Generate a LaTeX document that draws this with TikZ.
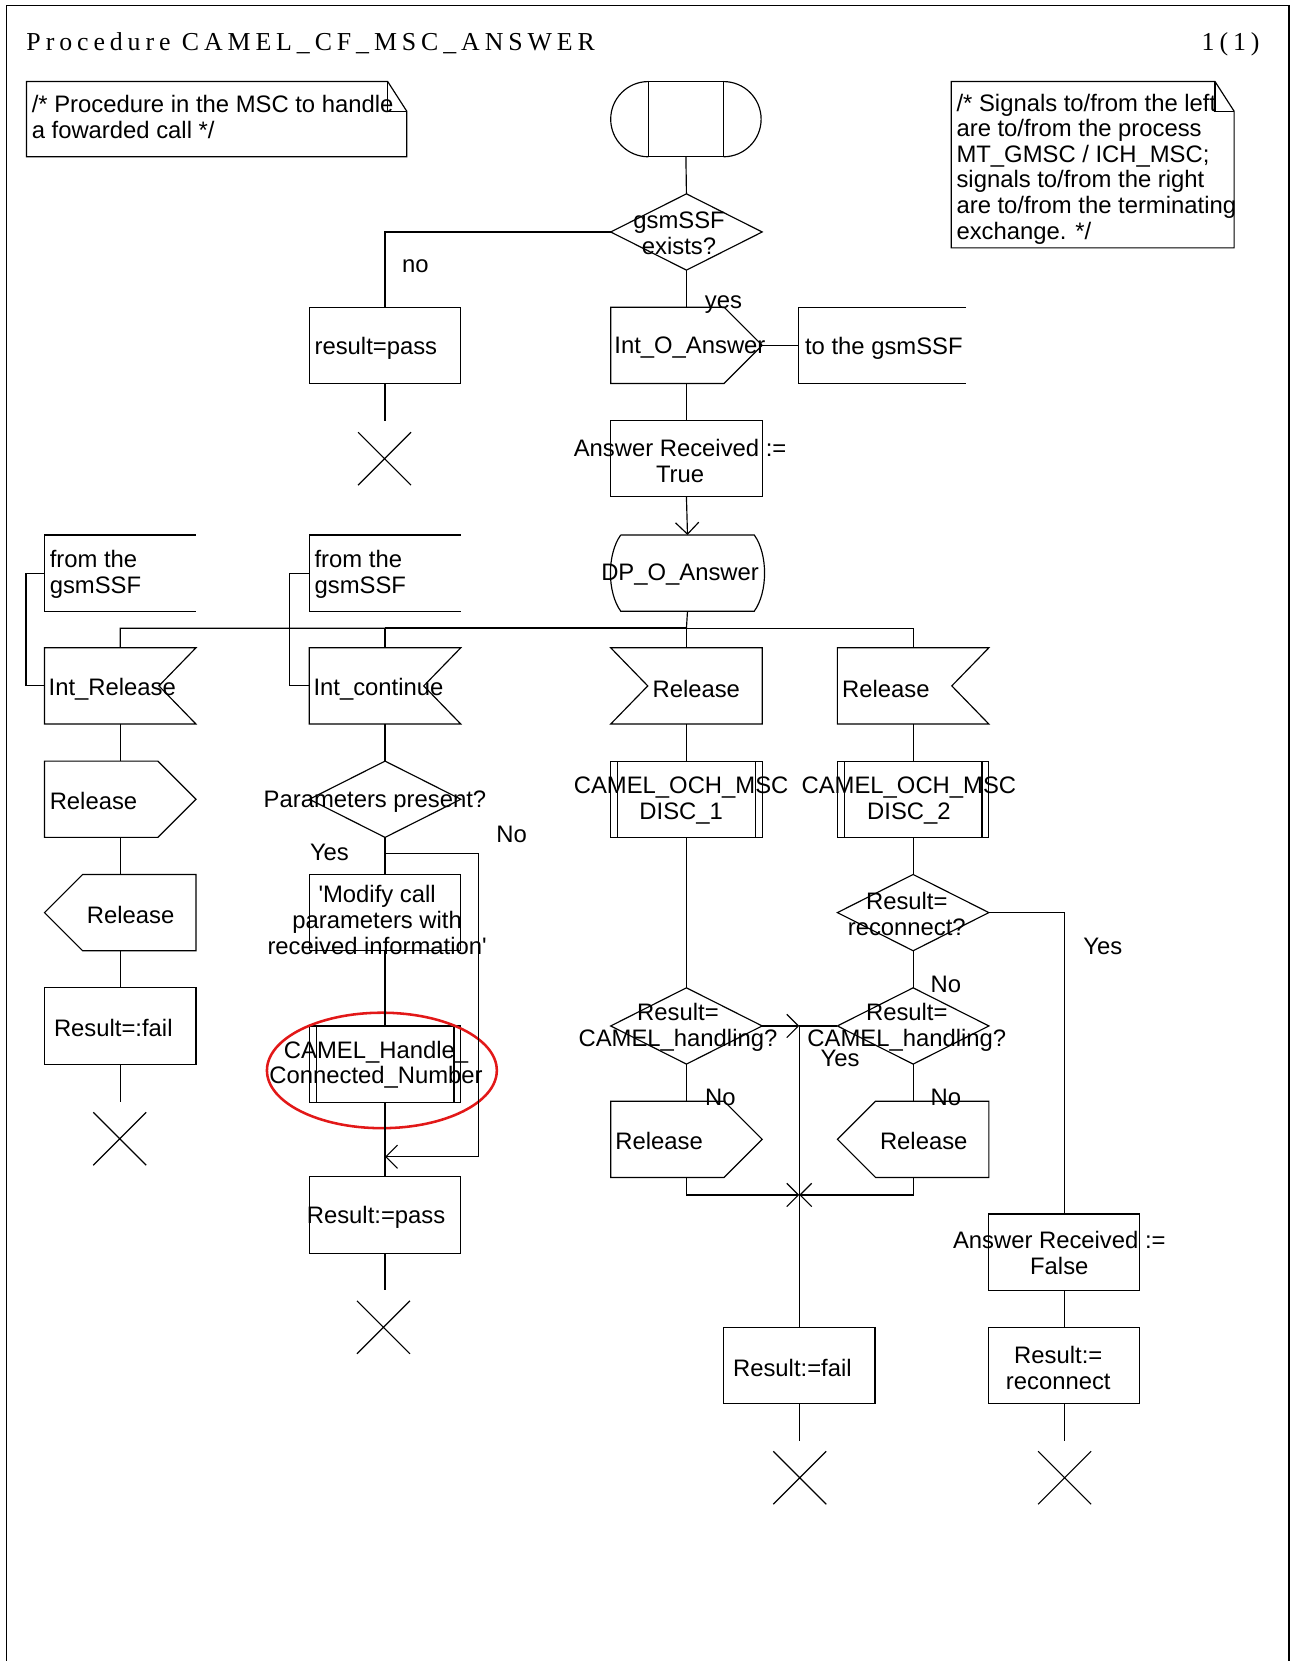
\documentclass[tikz,border=0pt]{standalone}
\usepackage{fontspec}
\setmainfont{Liberation Sans}
\newfontfamily\titlefont[LetterSpace=19]{Liberation Serif}
\usetikzlibrary{calc,arrows.meta,shapes.geometric}
\definecolor{hilite}{RGB}{226,24,24}

\begin{document}
\begin{tikzpicture}[x=0.5pt,y=-0.5pt,line width=0.55pt,
  every node/.style={inner sep=0pt,outer sep=0pt,font=\fontsize{11.25}{12.1}\selectfont},
  sym/.style={minimum width=71.5pt,minimum height=36pt},
  xmark/.style={minimum width=25pt,minimum height=25pt},
  flow/.style={-{Straight Barb[length=5.5pt,width=11pt]}},
  busbold/.style={line width=1.1pt},
  ctxt/.style={align=center,yshift=-1.25pt},
  ltxt/.style={align=left,anchor=west,yshift=-1.25pt},
  headfont/.style={font=\titlefont\fontsize{12.2}{14}\selectfont},
  ring/.style={draw=hilite,line width=1.2pt,ellipse,minimum width=108.5pt,minimum height=54.5pt}]

\useasboundingbox (0,0) rectangle (1219,1568);

% page frame (open at the bottom)
\draw[line width=0.7pt] (6,1568) -- (6,5) -- (1217,5) -- (1217,1568);

% header
\node[anchor=base west,headfont] (title) at (25,48) {Procedure CAMEL\_CF\_MSC\_ANSWER};
\node[anchor=base east,headfont] (page) at (1189,48) {1(1)};

% comment notes
\node[minimum width=179.5pt,minimum height=35.5pt] (note1) at (204.5,112.5) {};
\node[minimum width=133.5pt,minimum height=78.5pt] (note2) at (1031.5,155.5) {};
\foreach \n in {note1,note2}{
  \draw (\n.north west) -- ($(\n.north east)+(-18,0)$) -- ($(\n.north east)+(0,28)$) -- (\n.south east) -- (\n.south west) -- cycle;
  \draw ($(\n.north east)+(-18,0)$) -- ($(\n.north east)+(-18,28)$) -- ($(\n.north east)+(0,28)$);
}
\node[ltxt] (note1t) at (30,108) {/* Procedure in the MSC to handle\\a fowarded call */};
\node[ltxt] (note2t) at (903,157) {/* Signals to/from the left\\are to/from the process\\MT\_GMSC / ICH\_MSC;\\signals to/from the right\\are to/from the terminating\\exchange. */};

% ---------- symbols ----------
\node[minimum width=35.5pt,minimum height=35.5pt,draw] (start) at (647.5,112.5) {};
\draw (start.north west) arc[start angle=90,end angle=270,radius=17.75pt];
\draw (start.north east) arc[start angle=90,end angle=-90,radius=17.75pt];

\node[sym] (dec1) at (648,219) {};
\node[sym,draw] (resp) at (363.5,326) {};
\node[sym] (intoans) at (648,326) {};
\node[minimum width=79pt,minimum height=36pt] (togsm) at (833,326) {};
\node[sym,draw] (art) at (648,433) {};
\node[minimum width=63pt,minimum height=36pt] (dpo) at (649,541) {};
\node[sym] (from1) at (113.5,541) {};
\node[sym] (from2) at (363.5,541) {};
\node[sym] (intrel) at (113.5,647.5) {};
\node[sym] (intcont) at (363.5,647.5) {};
\node[sym] (rel3) at (648,647.5) {};
\node[sym] (rel4) at (862,647.5) {};
\node[sym] (relout1) at (113.5,754.5) {};
\node[sym] (pp) at (363.5,754.5) {};
\node[sym,draw] (disc1) at (648,754.5) {};
\node[sym,draw] (disc2) at (862,754.5) {};
\node[sym] (relout2) at (113.5,861.5) {};
\node[sym,draw] (modify) at (363.5,861.5) {};
\node[sym] (recon) at (862,861.5) {};
\node[sym,draw] (fail1) at (113.5,968.5) {};
\node[sym,draw] (cch) at (363.5,1004.5) {};
\node[sym] (dec3) at (648,968.5) {};
\node[sym] (dec4) at (862,968.5) {};
\node[sym] (relout3) at (648,1075.5) {};
\node[sym] (relout4) at (862,1075.5) {};
\node[sym,draw] (passres) at (363.5,1147) {};
\node[sym,draw] (arf) at (1004.5,1182) {};
\node[sym,draw] (failres) at (754.5,1289) {};
\node[sym,draw] (reconres) at (1004.5,1289) {};

% terminators
\node[xmark] (x1) at (363,433) {};
\node[xmark] (x2) at (113,1075) {};
\node[xmark] (x3) at (362,1253) {};
\node[xmark] (x4) at (755,1395) {};
\node[xmark] (x5) at (1005,1395) {};
\foreach \n in {x1,x2,x3,x4,x5}
  \draw (\n.north west) -- (\n.south east) (\n.north east) -- (\n.south west);

% decisions
\foreach \n in {dec1,pp,recon,dec3,dec4}
  \draw (\n.north) -- (\n.east) -- (\n.south) -- (\n.west) -- cycle;
% outputs pointing right
\foreach \n in {intoans,relout1,relout3}
  \draw (\n.north west) -- ($(\n.north east)+(-36,0)$) -- (\n.east) -- ($(\n.south east)+(-36,0)$) -- (\n.south west) -- cycle;
% outputs pointing left
\foreach \n in {relout2,relout4}
  \draw (\n.north east) -- ($(\n.north west)+(36,0)$) -- (\n.west) -- ($(\n.south west)+(36,0)$) -- (\n.south east) -- cycle;
% inputs, notch on the right
\foreach \n in {intrel,intcont,rel4}
  \draw (\n.north west) -- (\n.north east) -- ($(\n.east)+(-35,0)$) -- (\n.south east) -- (\n.south west) -- cycle;
% input, notch on the left
\draw (rel3.north east) -- (rel3.north west) -- ($(rel3.west)+(35,0)$) -- (rel3.south west) -- (rel3.south east) -- cycle;
% open comment brackets
\foreach \n in {togsm,from1,from2}
  \draw (\n.north east) -- (\n.north west) -- (\n.south west) -- (\n.south east);
% procedure calls
\foreach \n in {disc1,disc2,cch}
  \draw ($(\n.north west)+(6.5,0)$) -- ($(\n.south west)+(6.5,0)$)
        ($(\n.north east)+(-6.5,0)$) -- ($(\n.south east)+(-6.5,0)$);
% internal event
\draw (dpo.north west) -- (dpo.north east)
  .. controls ($(dpo.north east)+(13,18)$) and ($(dpo.south east)+(13,-18)$) .. (dpo.south east)
  -- (dpo.south west)
  .. controls ($(dpo.south west)+(-13,-18)$) and ($(dpo.north west)+(-13,18)$) .. (dpo.north west);

% highlight
\node[ring] (mark) at (360.5,1010.5) {};

% ---------- texts ----------
\node[ctxt] (t-dec1) at (641,218) {gsmSSF\\exists?};
\node[ctxt] (t-no1) at (392,249) {no};
\node[ctxt] (t-yes1) at (683,285) {yes};
\node[ltxt] (t-resp) at (297,326) {result=pass};
\node[ltxt] (t-intoans) at (580,326) {Int\_O\_Answer};
\node[ltxt] (t-togsm) at (760,326) {to the gsmSSF};
\node[ctxt] (t-art) at (642,432.5) {Answer Received :=\\True};
\node[ctxt] (t-dpo) at (642,540) {DP\_O\_Answer};
\node[ltxt] (t-from1) at (47,539.5) {from the\\gsmSSF};
\node[ltxt] (t-from2) at (297,539.5) {from the\\gsmSSF};
\node[ltxt] (t-intrel) at (46,648) {Int\_Release};
\node[ltxt] (t-intcont) at (296,648) {Int\_continue};
\node[ltxt] (t-rel3) at (616,648) {Release};
\node[ltxt] (t-rel4) at (795,648) {Release};
\node[ltxt] (t-relout1) at (47,754) {Release};
\node[ctxt] (t-pp) at (354,754) {Parameters present?};
\node[ctxt] (t-disc1) at (643,753.5) {CAMEL\_OCH\_MSC\\DISC\_1};
\node[ctxt] (t-disc2) at (858,753.5) {CAMEL\_OCH\_MSC\\DISC\_2};
\node[ctxt] (t-yes2) at (311,802) {Yes};
\node[ctxt] (t-no2) at (483,785) {No};
\node[ltxt] (t-relout2) at (82,861) {Release};
\node[ctxt] (t-modify) at (356,866) {\textquotesingle Modify call\\parameters with\\received information\textquotesingle};
\node[ctxt] (t-recon) at (856,860.5) {Result=\\reconnect?};
\node[ctxt] (t-yes3) at (1041,891) {Yes};
\node[ctxt] (t-no3) at (893,927) {No};
\node[ltxt] (t-fail1) at (51,968) {Result=:fail};
\node[ctxt] (t-cch) at (355,1002.5) {CAMEL\_Handle\_\\Connected\_Number};
\node[ctxt] (t-dec3) at (640,967.5) {Result=\\CAMEL\_handling?};
\node[ctxt] (t-dec4) at (856,967.5) {Result=\\CAMEL\_handling?};
\node[ctxt] (t-yes4) at (793,997) {Yes};
\node[ctxt] (t-no4) at (680,1033) {No};
\node[ctxt] (t-no5) at (893,1033) {No};
\node[ltxt] (t-relout3) at (581,1075) {Release};
\node[ctxt] (t-relout4) at (872,1075) {Release};
\node[ctxt] (t-passres) at (355,1147) {Result:=pass};
\node[ctxt] (t-arf) at (1000,1180.5) {Answer Received :=\\False};
\node[ctxt] (t-failres) at (748,1289) {Result:=fail};
\node[ctxt] (t-reconres) at (999,1289) {Result:=\\reconnect};

% ---------- connectors ----------
\coordinate (e1) at (363.5,397);
\coordinate (e2) at (113.5,1040);
\coordinate (e3) at (363.5,1218);
\coordinate (e4) at (754.5,1360);
\coordinate (e5) at (1004.5,1360);
\coordinate (bus) at (648,593);
\coordinate (ppj) at (363.5,806);
\coordinate (nj) at (363.5,1092);
\coordinate (mj) at (754.5,968.5);
\coordinate (mj2) at (754.5,1128);

\draw (start.south) -- (dec1.north);
\draw (dec1.west) -| (resp.north);
\draw (dec1.south) -- (intoans.north);
\draw (intoans.east) -- (togsm.west);
\draw (intoans.south) -- (art.north);
\draw[flow] (art.south) -- (dpo.north);
\draw (resp.south) -- (e1);

\draw (dpo.south) -- (bus) -| (intrel.north);
\draw[busbold] (bus) -- (bus -| intcont.north);
\draw (bus -| intcont.north) -- (intcont.north);
\draw (bus) -- (rel3.north);
\draw (bus) -| (rel4.north);
\draw (from1.west) -- ++(-17.5,0) |- (intrel.west);
\draw (from2.west) -- ++(-18.5,0) |- (intcont.west);

\draw (intrel.south) -- (relout1.north);
\draw (relout1.south) -- (relout2.north);
\draw (relout2.south) -- (fail1.north);
\draw (fail1.south) -- (e2);

\draw (intcont.south) -- (pp.north);
\draw (pp.south) -- (modify.north);
\draw[flow] (ppj) -- ++(88.5,0) |- (nj);
\draw (modify.south) -- (cch.north);
\draw (cch.south) -- (nj);
\draw[busbold] (nj) -- (passres.north);
\draw (passres.south) -- (e3);

\draw (rel3.south) -- (disc1.north);
\draw (disc1.south) -- (dec3.north);
\draw[flow] (dec3.east) -- (mj);
\draw (dec4.west) -- (mj);
\draw (mj) -- (failres.north);
\draw (dec3.south) -- (relout3.north);
\draw[flow] (relout3.south) |- (mj2);
\draw[flow] (relout4.south) |- (mj2);

\draw (rel4.south) -- (disc2.north);
\draw (disc2.south) -- (recon.north);
\draw (recon.south) -- (dec4.north);
\draw (recon.east) -| (arf.north);
\draw (dec4.south) -- (relout4.north);
\draw (arf.south) -- (reconres.north);
\draw (failres.south) -- (e4);
\draw (reconres.south) -- (e5);

\end{tikzpicture}
\end{document}
